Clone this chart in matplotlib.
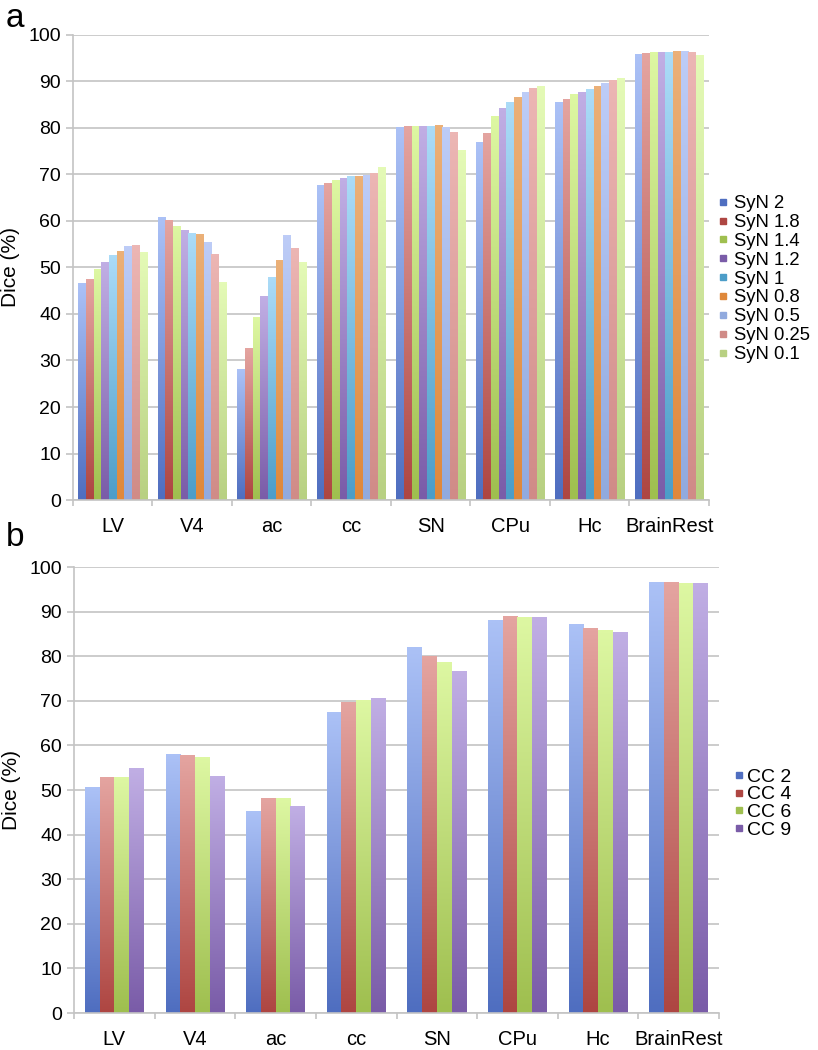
import numpy as np
import matplotlib
matplotlib.use("Agg")
import matplotlib.pyplot as plt
from matplotlib.colors import to_rgb
from matplotlib.lines import Line2D

plt.rcParams["font.family"] = ["Liberation Sans", "DejaVu Sans"]

regions = ["LV", "V4", "ac", "cc", "SN", "CPu", "Hc", "BrainRest"]

# panel a: SyN step sizes
syn_labels = ["SyN 2", "SyN 1.8", "SyN 1.4", "SyN 1.2", "SyN 1",
              "SyN 0.8", "SyN 0.5", "SyN 0.25", "SyN 0.1"]
syn_2 = [46.6, 60.8, 28.1, 67.7, 80.1, 76.8, 85.4, 95.8]
syn_1_8 = [47.5, 60.1, 32.5, 68.0, 80.3, 78.9, 86.2, 96.1]
syn_1_4 = [49.5, 58.8, 39.2, 68.8, 80.3, 82.5, 87.1, 96.2]
syn_1_2 = [51.1, 58.0, 43.7, 69.2, 80.4, 84.1, 87.7, 96.3]
syn_1 = [52.5, 57.2, 47.9, 69.5, 80.4, 85.4, 88.3, 96.3]
syn_0_8 = [53.4, 57.1, 51.6, 69.5, 80.5, 86.6, 88.9, 96.4]
syn_0_5 = [54.5, 55.4, 56.8, 69.7, 80.1, 87.7, 89.5, 96.4]
syn_0_25 = [54.7, 52.8, 54.0, 70.3, 79.0, 88.5, 90.2, 96.3]
syn_0_1 = [53.3, 46.7, 51.0, 71.5, 75.1, 88.9, 90.7, 95.6]
syn_series = [syn_2, syn_1_8, syn_1_4, syn_1_2, syn_1,
              syn_0_8, syn_0_5, syn_0_25, syn_0_1]

# panel b: CC radius
cc_labels = ["CC 2", "CC 4", "CC 6", "CC 9"]
cc_2 = [50.6, 57.9, 45.2, 67.3, 82.0, 87.9, 87.1, 96.5]
cc_4 = [52.8, 57.8, 48.0, 69.6, 80.0, 88.9, 86.1, 96.5]
cc_6 = [52.8, 57.3, 48.0, 70.0, 78.6, 88.7, 85.8, 96.4]
cc_9 = [54.9, 53.0, 46.3, 70.5, 76.5, 88.6, 85.2, 96.3]
cc_series = [cc_2, cc_4, cc_6, cc_9]

# (bottom, top) colours of the vertical gradient
blue = ("#4f6ec0", "#abc1f6")
red = ("#ae4642", "#e4a4a0")
green = ("#9fbf4f", "#ddf7a2")
purple = ("#7a5ca8", "#c0aee4")
syn_colors = [blue, red, green, purple,
              ("#4c9dc8", "#abdbf7"), ("#df883b", "#ebb078"),
              ("#91aade", "#bdccf7"), ("#d08b87", "#ecb6b4"),
              ("#b8d082", "#e4fab6")]
cc_colors = [blue, red, green, purple]

GRID = "#c4c4c4"


def gradient(c_bot, c_top, n=64):
    b = np.array(to_rgb(c_bot))
    t = np.array(to_rgb(c_top))
    f = np.linspace(0, 1, n)[:, None]  # row 0 = top colour
    return (t * (1 - f) + b * f)[:, None, :]


def draw_panel(ax, series, labels, colors, group_width):
    x = np.arange(len(regions))
    n = len(series)
    w = group_width / n
    for i, (vals, (cb, ct)) in enumerate(zip(series, colors)):
        bars = ax.bar(x - group_width / 2 + w * (i + 0.5), vals, w,
                      color="none", edgecolor="none", zorder=2)
        img = gradient(cb, ct)
        for p in bars.patches:
            x0, h = p.get_x(), p.get_height()
            ax.imshow(img, extent=[x0, x0 + p.get_width(), 0, h],
                      aspect="auto", zorder=2, interpolation="bilinear")
    ax.set_xlim(-0.5, len(regions) - 0.5)
    ax.set_ylim(0, 100)
    ax.set_yticks(np.arange(0, 101, 10))
    ax.yaxis.grid(True, color=GRID, linewidth=1.2)
    ax.set_axisbelow(True)
    ax.set_xticks(x)
    ax.set_xticklabels(regions, fontsize=14.5)
    ax.set_xticks(np.arange(-0.5, len(regions)), minor=True)
    ax.tick_params(axis="x", which="major", length=0, pad=12)
    ax.tick_params(axis="x", which="minor", length=4, color=GRID, width=1.2)
    ax.tick_params(axis="y", length=5, color=GRID, width=1.2, labelsize=14)
    for s in ("top", "right"):
        ax.spines[s].set_visible(False)
    for s in ("left", "bottom"):
        ax.spines[s].set_color(GRID)
        ax.spines[s].set_linewidth(1.2)
    ax.set_ylabel("Dice (%)", fontsize=15, labelpad=6)
    handles = [Line2D([], [], marker="s", linestyle="none", markersize=4.5,
                      color=cb) for cb, _ in colors]
    return handles


fig = plt.figure(figsize=(8.18, 10.5), dpi=100)
ax_a = fig.add_axes([0.0892, 0.5238, 0.7775, 0.4429])
ax_b = fig.add_axes([0.0905, 0.0352, 0.7885, 0.4248])

h_a = draw_panel(ax_a, syn_series, syn_labels, syn_colors, 0.87)
ax_a.legend(h_a, syn_labels, loc="center left", bbox_to_anchor=(1.0, 0.475),
            frameon=False, fontsize=13.3, labelspacing=0.1, handlelength=0.5,
            handletextpad=0.35, borderpad=0)

h_b = draw_panel(ax_b, cc_series, cc_labels, cc_colors, 0.73)
ax_b.legend(h_b, cc_labels, loc="center left", bbox_to_anchor=(1.01, 0.47),
            frameon=False, fontsize=14, labelspacing=0.0, handlelength=0.4,
            handletextpad=0.2, borderpad=0)

fig.text(0.007, 0.997, "a", fontsize=24, va="top")
fig.text(0.007, 0.503, "b", fontsize=24, va="top")

fig.savefig("out.png", dpi=100)
